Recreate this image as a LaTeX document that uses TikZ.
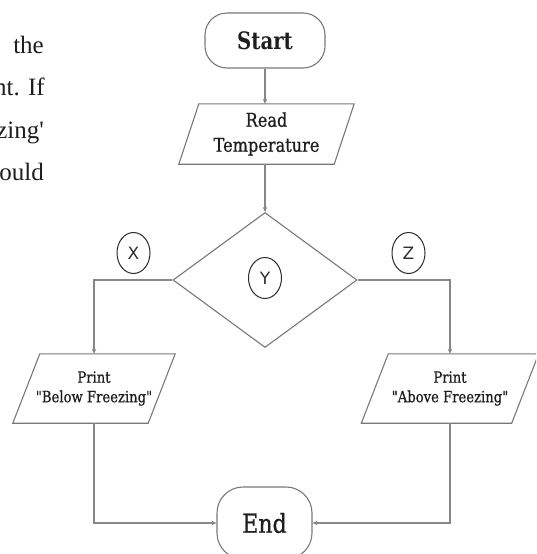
\documentclass[tikz,border=0pt]{standalone}
\usepackage{fontspec}
\newfontfamily\slab[FakeStretch=0.85,FakeBold=0.8]{DejaVu Serif}
\newfontfamily\slabb[FakeStretch=0.82]{DejaVu Serif Bold}
\newfontfamily\leftfont{Liberation Serif}
\newfontfamily\labfont{DejaVu Sans}
\usetikzlibrary{shapes.geometric,arrows.meta,calc}
\definecolor{linegray}{RGB}{135,135,135}
\definecolor{boxgray}{RGB}{120,120,120}
\definecolor{inkdark}{RGB}{30,30,30}
\definecolor{circgray}{RGB}{45,45,45}
\begin{document}
\begin{tikzpicture}[x=1pt,y=-1pt,
  term/.style={draw=boxgray, line width=1.1pt, rounded corners=22pt, inner sep=0pt, text=inkdark},
  iobox/.style={inner sep=0pt, text=inkdark, align=center},
  decision/.style={diamond, draw=boxgray, line width=1.1pt, inner sep=0pt, minimum width=184pt, minimum height=135pt},
  tag/.style={ellipse, draw=circgray, line width=1pt, minimum width=33pt, minimum height=41pt, inner sep=0pt, font={\labfont\fontsize{17}{17}\selectfont}, text=circgray},
  flow/.style={draw=linegray, line width=1.1pt, -{Stealth[length=5pt,width=4.5pt]}},
  para/.style={draw=boxgray, line width=1.1pt},
  lefttext/.style={anchor=base east, inner sep=0pt, font={\leftfont\fontsize{25}{25}\selectfont}, text=inkdark}
]
\useasboundingbox (0,0) rectangle (536,554);
\clip (0,0) rectangle (536,554);

% left margin text fragments (cut at the page edge, as in the reference)
\node[lefttext] (l1) at (44,53) {the};
\node[lefttext] (l2) at (45,95) {nt. If};
\node[lefttext] (l3) at (44,138) {zing\textquotesingle};
\node[lefttext] (l4) at (44,180) {ould};

% flowchart nodes
\node[term, minimum width=120pt, minimum height=55pt, font={\slabb\fontsize{24}{24}\selectfont}] (start) at (265,40.5) {Start};

\node[iobox, minimum width=155pt, minimum height=60pt, font={\slab\fontsize{19}{25}\selectfont}] (read) at (266.5,134) {Read\\Temperature};
\draw[para] ($(read.north west)+(10,0)$) -- ($(read.north east)+(10,0)$) -- ($(read.south east)+(-10,0)$) -- ($(read.south west)+(-10,0)$) -- cycle;

\node[decision] (dec) at (265,280) {};
\node[tag] (tx) at (133.5,253) {X};
\node[tag] (ty) at (265,278) {Y};
\node[tag] (tz) at (408.5,253) {Z};

\node[iobox, minimum width=135pt, minimum height=69pt, font={\slab\fontsize{15.5}{19.5}\selectfont}] (below) at (94,388.5) {Print\\"Below Freezing"};
\draw[para] ($(below.north west)+(13.5,0)$) -- ($(below.north east)+(13.5,0)$) -- ($(below.south east)+(-13.5,0)$) -- ($(below.south west)+(-13.5,0)$) -- cycle;

\node[iobox, minimum width=150pt, minimum height=69pt, font={\slab\fontsize{15.5}{19.5}\selectfont}] (above) at (450,388.5) {Print\\"Above Freezing"};
\draw[para] ($(above.north west)+(13.5,0)$) -- ($(above.north east)+(13.5,0)$) -- ($(above.south east)+(-13.5,0)$) -- ($(above.south west)+(-13.5,0)$) -- cycle;

\node[term, minimum width=95pt, minimum height=72pt, rounded corners=26pt, font={\slab\fontsize{26}{26}\selectfont}] (end) at (264.5,523) {End};

% connectors
\draw[flow] (start.south) -- (start.south |- read.north);
\draw[flow] (read.south -| dec.north) -- (dec.north);
\draw[flow] (dec.west) -| (below.north);
\draw[flow] (dec.east) -| (above.north);
\draw[flow] (below.south) |- (end.west);
\draw[flow] (above.south) |- (end.east);
\end{tikzpicture}
\end{document}
